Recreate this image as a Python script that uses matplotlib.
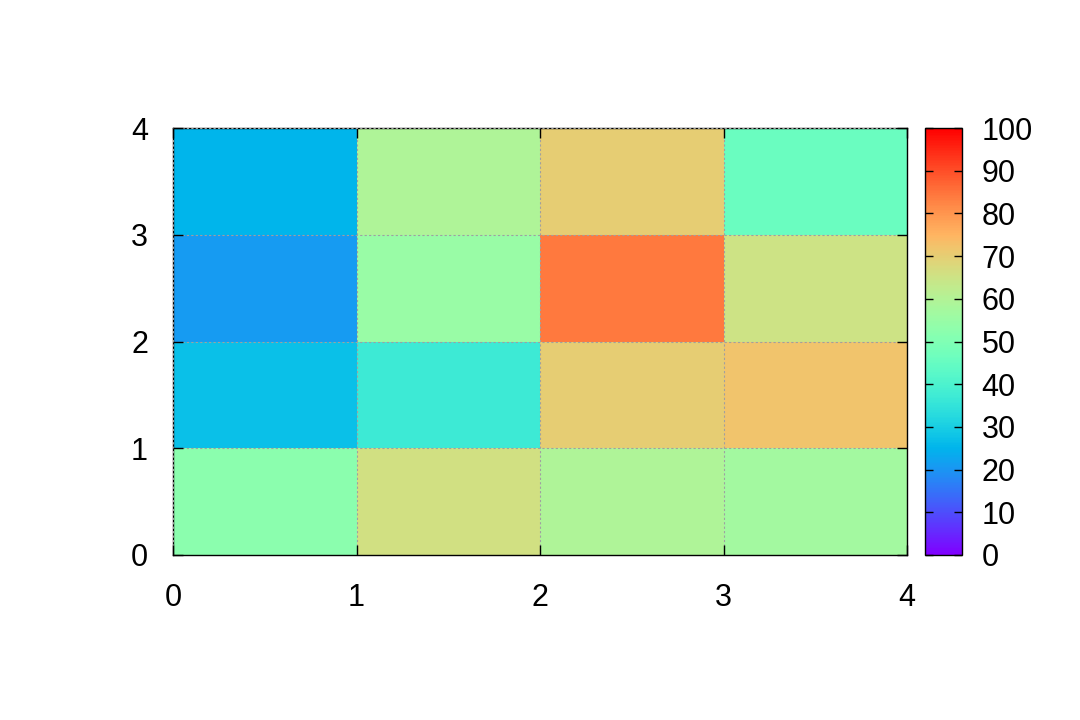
import matplotlib
matplotlib.use('Agg')
import matplotlib.pyplot as plt
import numpy as np

# cell values, rows from y=0 (bottom) to y=3 (top)
row0 = [52, 66, 59, 57]
row1 = [27, 37, 70, 72]
row2 = [21, 55, 84, 65]
row3 = [25, 59, 70, 46]
x_edges = [0, 1, 2, 3, 4]
y_edges = [0, 1, 2, 3, 4]
cb_ticks = [0, 10, 20, 30, 40, 50, 60, 70, 80, 90, 100]

plt.rcParams['font.family'] = ['Liberation Sans', 'DejaVu Sans']

z = np.array([row0, row1, row2, row3])

fig = plt.figure(figsize=(10.8, 7.2), dpi=100)
ax = fig.add_axes([173/1080, 165/720, 734/1080, 427/720])
cax = fig.add_axes([925/1080, 165/720, 37/1080, 427/720])

mesh = ax.pcolormesh(x_edges, y_edges, z, cmap='rainbow', vmin=0, vmax=100)
ax.set_xlim(0, 4)
ax.set_ylim(0, 4)
ax.set_xticks(x_edges)
ax.set_yticks(y_edges)
ax.set_axisbelow(False)
ax.grid(True, color='#a0a0a0', linestyle=(0, (2, 2)), linewidth=0.8)
ax.tick_params(direction='in', length=7, width=1, labelsize=22,
               top=True, right=True)
ax.tick_params(axis='x', pad=20)
ax.tick_params(axis='y', pad=18)
for sp in ax.spines.values():
    sp.set_linewidth(1)

cb = fig.colorbar(mesh, cax=cax)
cb.set_ticks(cb_ticks)
cb.outline.set_linewidth(1)
cax.tick_params(direction='in', length=6, width=1, labelsize=22,
                left=True, right=True, pad=14)

fig.savefig('out.png', dpi=100)
